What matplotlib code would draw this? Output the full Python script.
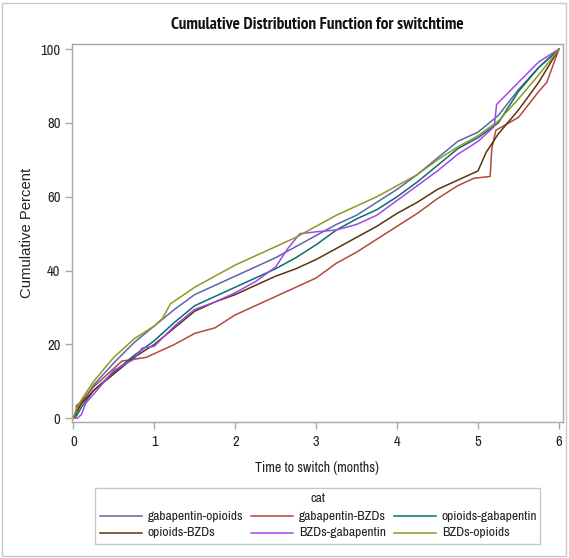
import matplotlib
matplotlib.use("Agg")
import matplotlib.pyplot as plt
from matplotlib import font_manager
from matplotlib.font_manager import FontProperties
from matplotlib.lines import Line2D
from matplotlib.patches import Rectangle

plt.rcParams["font.family"] = ["Liberation Sans", "DejaVu Sans"]


def find_narrow(bold):
    for f in font_manager.fontManager.ttflist:
        if "narrow" not in f.name.lower() or f.style != "normal":
            continue
        isbold = (f.weight in ("bold", 700) or (isinstance(f.weight, int) and f.weight >= 600))
        if isbold == bold:
            return f.fname
    return None


nar_reg = find_narrow(False)
nar_bold = find_narrow(True)

categories = ["gabapentin-opioids", "gabapentin-BZDs", "opioids-gabapentin",
              "opioids-BZDs", "BZDs-gabapentin", "BZDs-opioids"]
colors = ["#5868A8", "#B5483C", "#0B6E68", "#5A3410", "#A645EE", "#8A9A22"]

x_go = [0, 0.03, 0.1, 0.25, 0.5, 0.75, 1, 1.25, 1.5, 1.75, 2, 2.25, 2.5, 2.75, 3, 3.25,
        3.5, 3.75, 4, 4.25, 4.5, 4.75, 5, 5.25, 5.5, 5.75, 6]
y_go = [0, 2, 4, 9, 15, 20.5, 25, 29.5, 33.5, 36, 38.5, 41, 43.5, 46.5, 49.5, 52.5,
        55, 58.5, 62, 66, 70.5, 75, 77.5, 82, 89, 95, 100]

x_gb = [0.03, 0.04, 0.1, 0.25, 0.5, 0.6, 0.9, 1, 1.25, 1.5, 1.75, 2, 2.25, 2.5, 2.75, 3,
        3.25, 3.5, 3.75, 4, 4.25, 4.5, 4.75, 4.95, 5.15, 5.17, 5.22, 5.5, 5.75, 5.85, 6]
y_gb = [0, 3.5, 4.5, 8.5, 13.5, 15.5, 16.5, 17.5, 20, 23, 24.5, 28, 30.5, 33, 35.5, 38,
        42, 45, 48.5, 52, 55.5, 59.5, 63, 65, 65.5, 73, 78, 81.5, 88.5, 91, 100]

x_og = [0, 0.05, 0.1, 0.25, 0.5, 0.75, 1, 1.25, 1.5, 1.75, 2, 2.25, 2.5, 2.75, 3, 3.25,
        3.5, 3.75, 4, 4.25, 4.5, 4.75, 5, 5.25, 5.5, 5.75, 6]
y_og = [0, 1, 3, 7.5, 12.5, 17, 21, 26, 30.5, 33, 35.5, 38, 40.5, 43.5, 47, 51,
        54, 56.5, 60, 64, 68.5, 73, 76, 80, 88.5, 95, 100]

x_ob = [0, 0.05, 0.1, 0.25, 0.5, 0.75, 1, 1.25, 1.5, 1.75, 2, 2.25, 2.5, 2.75, 3, 3.25,
        3.5, 3.75, 4, 4.25, 4.5, 4.75, 5, 5.1, 5.25, 5.5, 5.75, 6]
y_ob = [0, 2, 4, 7.5, 12, 16.5, 20, 24.5, 29, 31.5, 33.5, 36, 38.5, 40.5, 43, 46,
        49, 52, 55.5, 58.5, 62, 64.5, 67, 72, 77, 83.5, 91, 100]

x_bg = [0.05, 0.1, 0.15, 0.25, 0.5, 0.75, 0.85, 1, 1.25, 1.5, 1.75, 2, 2.25, 2.5, 2.65,
        2.8, 3, 3.25, 3.5, 3.75, 4, 4.25, 4.5, 4.75, 5, 5.2, 5.23, 5.5, 5.75, 6]
y_bg = [0, 1, 4, 6.5, 13, 16, 19, 19.5, 25, 29.5, 31.5, 34, 37, 41, 46,
        50, 50.5, 51, 52.5, 55, 59, 63, 67, 71.5, 75, 79, 85, 91, 96.5, 100]

x_bo = [0, 0.05, 0.1, 0.25, 0.5, 0.75, 1, 1.1, 1.2, 1.5, 1.75, 2, 2.25, 2.5, 2.75, 3,
        3.25, 3.5, 3.75, 4, 4.25, 4.5, 4.75, 5, 5.25, 5.5, 5.75, 6]
y_bo = [0, 3, 5, 10, 16.5, 21.5, 25, 27, 31, 35.5, 38.5, 41.5, 44, 46.5, 49, 52,
        55, 57.5, 60, 63, 66, 70, 73.5, 76.5, 80.5, 86.5, 93, 100]

series_x = [x_go, x_gb, x_og, x_ob, x_bg, x_bo]
series_y = [y_go, y_gb, y_og, y_ob, y_bg, y_bo]

x_ticks = [0, 1, 2, 3, 4, 5, 6]
y_ticks = [0, 20, 40, 60, 80, 100]

# sizes chosen to match the widths of the reference texts
if nar_reg:
    fp_reg = lambda s: FontProperties(fname=nar_reg, size=s / 0.82)
else:
    fp_reg = lambda s: FontProperties(family=["Liberation Sans", "DejaVu Sans"], size=s)
if nar_bold:
    fp_title = FontProperties(fname=nar_bold, size=10.15 / 0.82)
else:
    fp_title = FontProperties(family=["Liberation Sans", "DejaVu Sans"], weight="bold", size=9.3)
sz_tick, sz_lab, sz_leg = 8.6, 8.3, 8.0

W, H = 569, 558
fig = plt.figure(figsize=(W / 100, H / 100), dpi=100)
fig.patch.set_facecolor("white")
fig.add_artist(Rectangle((2 / W, 2 / H), (W - 5) / W, (H - 5) / H, transform=fig.transFigure,
                         fill=False, edgecolor="#C8C8C8", linewidth=1.0))

ax = fig.add_axes([71.7 / W, 1 - 422 / H, (563 - 71.7) / W, (422 - 43.5) / H])
for xs, ys, c in zip(series_x, series_y, colors):
    ax.plot(xs, ys, color=c, linewidth=1.1)

ax.set_xlim(-0.02, 6.05)
ax.set_ylim(-1.0, 101.5)
ax.set_xticks(x_ticks)
ax.set_yticks(y_ticks)
for s in ax.spines.values():
    s.set_color("#A8A8A8")
    s.set_linewidth(1.0)
ax.tick_params(axis="both", colors="#A8A8A8", labelcolor="#222222", length=5, width=1)
for lab in ax.get_xticklabels() + ax.get_yticklabels():
    lab.set_fontproperties(fp_reg(sz_tick))
ax.tick_params(axis="y", pad=3)
ax.tick_params(axis="x", pad=4)
ax.set_xlabel("Time to switch (months)", fontproperties=fp_reg(sz_lab), color="#222222",
              labelpad=9)
fig.text(27 / W, 1 - 233 / H, "Cumulative Percent", rotation=90, ha="center", va="center",
         fontsize=10.7, color="#222222")
fig.text(317 / W, 1 - 25 / H, "Cumulative Distribution Function for switchtime",
         ha="center", va="center", fontproperties=fp_title, color="#111111")

# legend
fig.add_artist(Rectangle((95 / W, 1 - 544 / H), (540 - 95) / W, (544 - 488) / H,
                         transform=fig.transFigure, fill=False, edgecolor="#C8C8C8", linewidth=1.0))
fig.text(318 / W, 1 - 498 / H, "cat", ha="center", va="center", fontproperties=fp_reg(sz_leg),
         color="#222222")
line_x = [100, 251, 394]
rows_y = [516, 533]
for i, (name, c) in enumerate(zip(categories, colors)):
    r, col = divmod(i, 3)
    x0 = line_x[col]
    y0 = 1 - rows_y[r] / H
    fig.add_artist(Line2D([x0 / W, (x0 + 42) / W], [y0, y0], transform=fig.transFigure,
                          color=c, linewidth=1.1))
    fig.text((x0 + 48) / W, y0, name, ha="left", va="center", fontproperties=fp_reg(sz_leg),
             color="#222222")

fig.savefig("out.png", dpi=100, facecolor="white")
